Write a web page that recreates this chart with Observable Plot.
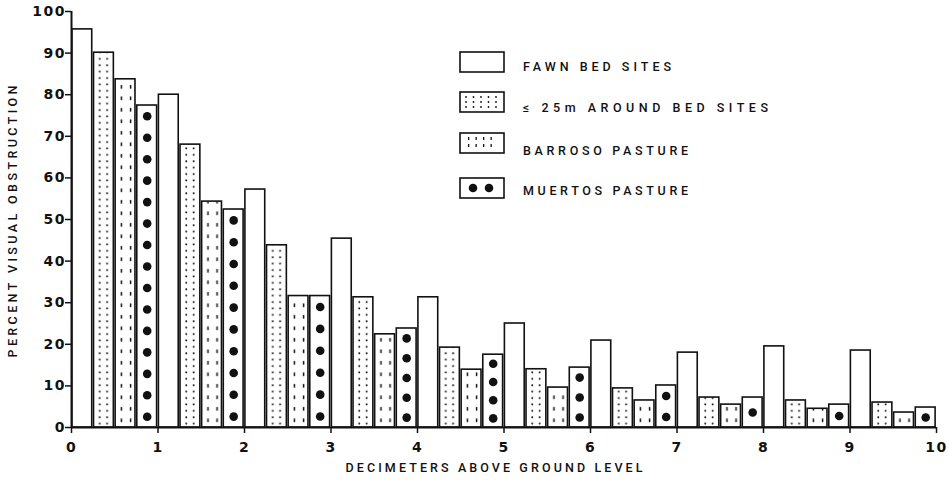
<!DOCTYPE html>
<html>
<head>
<meta charset="utf-8">
<script src="https://cdn.jsdelivr.net/npm/d3@7"></script>
<script src="https://cdn.jsdelivr.net/npm/@observablehq/plot@0.6"></script>
<style>
  body { margin: 0; background: #fff; }
  #wrap { position: relative; width: 948px; height: 496px; background: #fff; }
  #wrap > svg { position: absolute; left: 0; top: 0; }
</style>
</head>
<body>
<div id="wrap"></div>
<script>
// ---- data ----
const decimeters = [0, 1, 2, 3, 4, 5, 6, 7, 8, 9];          // start of each 1-dm height class
const xTicks = [0, 1, 2, 3, 4, 5, 6, 7, 8, 9, 10];
const yTicks = [0, 10, 20, 30, 40, 50, 60, 70, 80, 90, 100];
const seriesNames = ["FAWN BED SITES", "\u2264 25m AROUND BED SITES", "BARROSO PASTURE", "MUERTOS PASTURE"];
const fawnBedSites   = [95.7, 80.0, 57.2, 45.4, 31.3, 25.0, 20.9, 18.0, 19.5, 18.5];
const around25m      = [90.1, 68.0, 43.8, 31.3, 19.2, 14.0, 9.4, 7.2, 6.5, 6.0];
const barrosoPasture = [83.7, 54.3, 31.6, 22.4, 13.9, 9.6, 6.5, 5.5, 4.5, 3.6];
const muertosPasture = [77.4, 52.4, 31.6, 23.8, 17.5, 14.4, 10.1, 7.2, 5.5, 4.8];
const seriesValues = [fawnBedSites, around25m, barrosoPasture, muertosPasture];

// table built from the arrays: each height class is split into 4 equal slots
const tables = seriesValues.map((vals, k) => vals.map((v, i) => ({
  x1: decimeters[i] + k / 4, x2: decimeters[i] + (k + 1) / 4, y: v
})));
// decorative dots for the Muertos hatch, spread evenly inside each bar
const muertosDots = [];
muertosPasture.forEach((v, i) => {
  const n = Math.max(1, Math.round(v / 5));
  for (let j = 0; j < n; j++) muertosDots.push({x: decimeters[i] + 3.5 / 4, y: v * (j + 0.5) / n});
});

const fills = ["white", "url(#pAround)", "url(#pBarroso)", "white"];
const svgNS = "http://www.w3.org/2000/svg";
const titleFont = "Roboto, 'DejaVu Sans', sans-serif";

function patternDefs(index, scales) {
  const x0 = scales.x(0), slot = scales.x(0.25) - scales.x(0), y0 = scales.y(0);
  const defs = document.createElementNS(svgNS, "defs");
  defs.innerHTML = `
    <pattern id="pAround" patternUnits="userSpaceOnUse" x="${x0}" y="${y0}" width="${slot}" height="6.4">
      <rect width="${slot}" height="6.4" fill="white"/>
      <circle cx="${slot * 0.33}" cy="3" r="1" fill="#111"/>
      <circle cx="${slot * 0.67}" cy="3" r="1" fill="#111"/>
    </pattern>
    <pattern id="pBarroso" patternUnits="userSpaceOnUse" x="${x0}" y="${y0}" width="${slot}" height="11.5">
      <rect width="${slot}" height="11.5" fill="white"/>
      <rect x="${slot * 0.30}" y="3" width="1.5" height="3.6" fill="#111"/>
      <rect x="${slot * 0.72}" y="3" width="1.5" height="3.6" fill="#111"/>
    </pattern>`;
  return defs;
}

const chart = Plot.plot({
  width: 948,
  height: 496,
  marginLeft: 71,
  marginRight: 12,
  marginTop: 11,
  marginBottom: 69,
  style: {fontFamily: "DejaVu Sans, sans-serif", fontSize: "14px", fontWeight: "bold", color: "#111", background: "white"},
  x: {domain: [0, 10]},
  y: {domain: [0, 100]},
  marks: [
    patternDefs,
    ...tables.map((t, k) => Plot.rectY(t, {
      x1: "x1", x2: "x2", y: "y",
      fill: fills[k], stroke: "#111", strokeWidth: 1.6,
      insetLeft: 0.9, insetRight: 0.9
    })),
    Plot.dot(muertosDots, {x: "x", y: "y", r: 4.3, fill: "#111", stroke: "none"}),
    Plot.ruleY([0], {stroke: "#111", strokeWidth: 2}),
    Plot.ruleX([0], {stroke: "#111", strokeWidth: 2}),
    Plot.axisX({ticks: xTicks, tickFormat: d => d, tickSize: 6, tickPadding: 9, label: null, strokeWidth: 1.5}),
    Plot.axisY({ticks: yTicks, tickFormat: d => d, tickSize: 6, tickPadding: 1, label: null, strokeWidth: 1.5}),
    Plot.text(["PERCENT VISUAL OBSTRUCTION"], {frameAnchor: "left", textAnchor: "middle", lineAnchor: "middle", rotate: -90, dx: -59, dy: 2, fontSize: 12.5, fontWeight: 500, fontFamily: titleFont}),
    Plot.text(["DECIMETERS ABOVE GROUND LEVEL"], {frameAnchor: "bottom", textAnchor: "middle", lineAnchor: "middle", dx: -10, dy: 40, fontSize: 12.5, fontWeight: 500, fontFamily: titleFont})
  ]
});

const sel = d3.select(chart);
// stretch the titles to the reference's tracking
sel.selectAll("text").each(function () {
  const t = this.textContent;
  if (t === "PERCENT VISUAL OBSTRUCTION") d3.select(this).attr("textLength", 272).attr("lengthAdjust", "spacing");
  if (t === "DECIMETERS ABOVE GROUND LEVEL") d3.select(this).attr("textLength", 297).attr("lengthAdjust", "spacing");
});
// wider tick label tracking
sel.selectAll("g[aria-label='x-axis tick label'] text, g[aria-label='y-axis tick label'] text").attr("letter-spacing", "1.5px");
sel.selectAll("g[aria-label='y-axis tick label'] text").attr("dx", "1.5");

document.getElementById("wrap").append(chart);

// legend (overlay SVG)
const legendLengths = [148, 245, 165, 165];
const swatches = [
  ``,
  [0, 1, 2, 3, 4].map(c => [0, 1, 2].map(r => `<circle cx="${7 + c * 7.5}" cy="${5 + r * 5}" r="0.9" fill="#111"/>`).join("")).join(""),
  [0, 1, 2, 3].map(c => [0, 1].map(r => `<rect x="${9 + c * 7.5}" y="${4 + r * 7}" width="1.3" height="3" fill="#111"/>`).join("")).join(""),
  `<circle cx="14" cy="10" r="4.3" fill="#111"/><circle cx="30" cy="10" r="4.3" fill="#111"/>`
];
const rowBox = [52, 92, 133, 178];
const rowText = [67, 108, 151, 191];
const leg = d3.select("#wrap").append("svg").attr("width", 948).attr("height", 496)
  .style("pointer-events", "none");
seriesNames.forEach((name, k) => {
  const g = leg.append("g").attr("transform", `translate(459,${rowBox[k]})`);
  g.html(`<rect x="1" y="0" width="44" height="20" fill="white" stroke="#111" stroke-width="1.6"/>${swatches[k]}`);
  leg.append("text").attr("x", 523).attr("y", rowText[k]).attr("dy", "0.35em")
    .attr("font-family", titleFont).attr("font-weight", 500).attr("font-size", 12.5)
    .attr("fill", "#111")
    .attr("textLength", legendLengths[k]).attr("lengthAdjust", "spacing")
    .text(name);
});
</script>
</body>
</html>
